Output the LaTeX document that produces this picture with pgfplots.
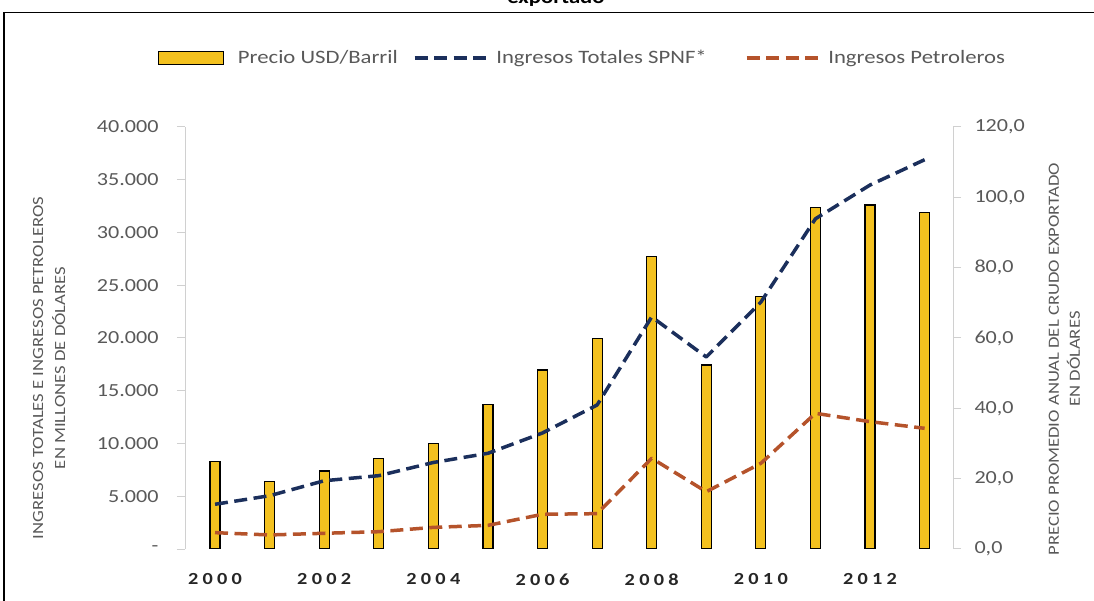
\documentclass[border=0pt]{standalone}
\usepackage{fontspec}
\setmainfont{Carlito}[FakeStretch=1.2]
\usepackage{pgfplots}
\usepackage{pgfplotstable}
\pgfplotsset{compat=1.18}

\definecolor{txtgray}{HTML}{595959}
\definecolor{axgray}{HTML}{D0D0D0}
\definecolor{barfill}{HTML}{F3C11F}
\definecolor{navy}{HTML}{1B2F5C}
\definecolor{rust}{HTML}{B5532B}

% precio: USD por barril (eje derecho); totales y petroleros: millones de USD (eje izquierdo)
\pgfplotstableread{
idx precio totales petroleros
0  24.9  4240  1550
1  19.2  5050  1330
2  22.2  6470  1490
3  25.8  6950  1640
4  30.0  8200  2050
5  41.0  9070  2240
6  50.9 11000  3290
7  59.9 13650  3350
8  83.1 22000  8600
9  52.3 18200  5430
10 71.7 23400  8120
11 97.0 31300 12860
12 97.8 34500 12070
13 95.6 36900 11440
}\datatable

\pgfplotsset{
  frame/.style={
    at={(185bp,52bp)}, anchor=south west, scale only axis,
    width=768bp, height=422bp,
    xmin=-0.55, xmax=13.52,
    tick align=outside, major tick length=8bp,
    y axis line style={draw=axgray, line width=1bp},
    ytick style={draw=axgray, line width=1bp},
    yticklabel style={font=\fontsize{18.5}{18.5}\selectfont, text=txtgray},
    /pgf/number format/assume math mode=true,
  },
  linelegend/.style={legend image code/.code={
    \draw[##1] (0bp,0bp) -- (77bp,0bp); \path (#1,0bp);}},
  dashedline/.style={line width=3.5bp, dash pattern=on 13bp off 6.5bp, line join=round},
}

\begin{document}
\begin{tikzpicture}
\useasboundingbox (0bp,0bp) rectangle (1094bp,601bp);
\draw[line width=1.5bp] (4bp,588.5bp) rectangle (1110bp,-10bp);
\node[font=\bfseries\fontsize{19}{19}\selectfont, anchor=base] at (556bp,597bp) {exportado};

% barras: precio del crudo, eje derecho
\begin{axis}[frame,
  ymin=0, ymax=120,
  axis y line*=right, axis x line=none,
  ytick={0,20,...,120},
  yticklabel style={xshift=10bp, /pgf/number format/.cd, fixed, fixed zerofill, precision=1, use comma},
  ylabel={PRECIO PROMEDIO ANUAL DEL CRUDO EXPORTADO\\EN DÓLARES},
  every axis y label/.style={at={(axis description cs:1.145,0.45)}, rotate=90, anchor=center,
    align=center, font=\fontsize{15.6}{21}\selectfont, text=txtgray},
]
\addplot[ybar, bar width=10bp, bar shift=0pt, fill=barfill, draw=black, line width=1.2bp]
  table[x=idx, y=precio] {\datatable};
\end{axis}

% líneas: ingresos, eje izquierdo
\begin{axis}[frame,
  ymin=0, ymax=40000,
  axis y line*=left, axis x line*=bottom,
  x axis line style={draw=none}, xtick style={draw=none},
  xtick={0,2,...,12},
  xticklabels={2000,2002,2004,2006,2008,2010,2012},
  xticklabel style={font=\bfseries\fontsize{17}{17}\selectfont\addfontfeatures{LetterSpace=25},
    text=black!85, yshift=-13bp},
  ytick={0,5000,...,40000},
  yticklabels={-,5.000,10.000,15.000,20.000,25.000,30.000,35.000,40.000},
  yticklabel style={xshift=-15bp},
  scaled y ticks=false,
  ylabel={INGRESOS TOTALES E INGRESOS PETROLEROS\\EN MILLONES DE DÓLARES},
  every axis y label/.style={at={(axis description cs:-0.177,0.429)}, rotate=90, anchor=center,
    align=center, font=\fontsize{15.6}{22}\selectfont, text=txtgray},
  legend columns=-1,
  legend style={at={(axis description cs:-0.0352,1.1635)}, anchor=west, draw=none, fill=none,
    inner sep=0pt, font=\fontsize{19}{19}\selectfont, text=txtgray,
    nodes={inner sep=0pt}, /tikz/every even column/.style={column sep=0pt}},
]
\addlegendimage{legend image code/.code={
  \draw[fill=barfill, draw=black, line width=1.2bp] (0bp,-6.5bp) rectangle (65bp,6.5bp);
  \path (79bp,0bp);}}
\addlegendentry{Precio USD/Barril\kern15bp}
\addplot[navy, dashedline, linelegend=80bp]
  table[x=idx, y=totales] {\datatable};
\addlegendentry{Ingresos Totales SPNF*\kern38bp}
\addplot[rust, dashedline, linelegend=80bp]
  table[x=idx, y=petroleros] {\datatable};
\addlegendentry{Ingresos Petroleros}
\end{axis}
\end{tikzpicture}
\end{document}
